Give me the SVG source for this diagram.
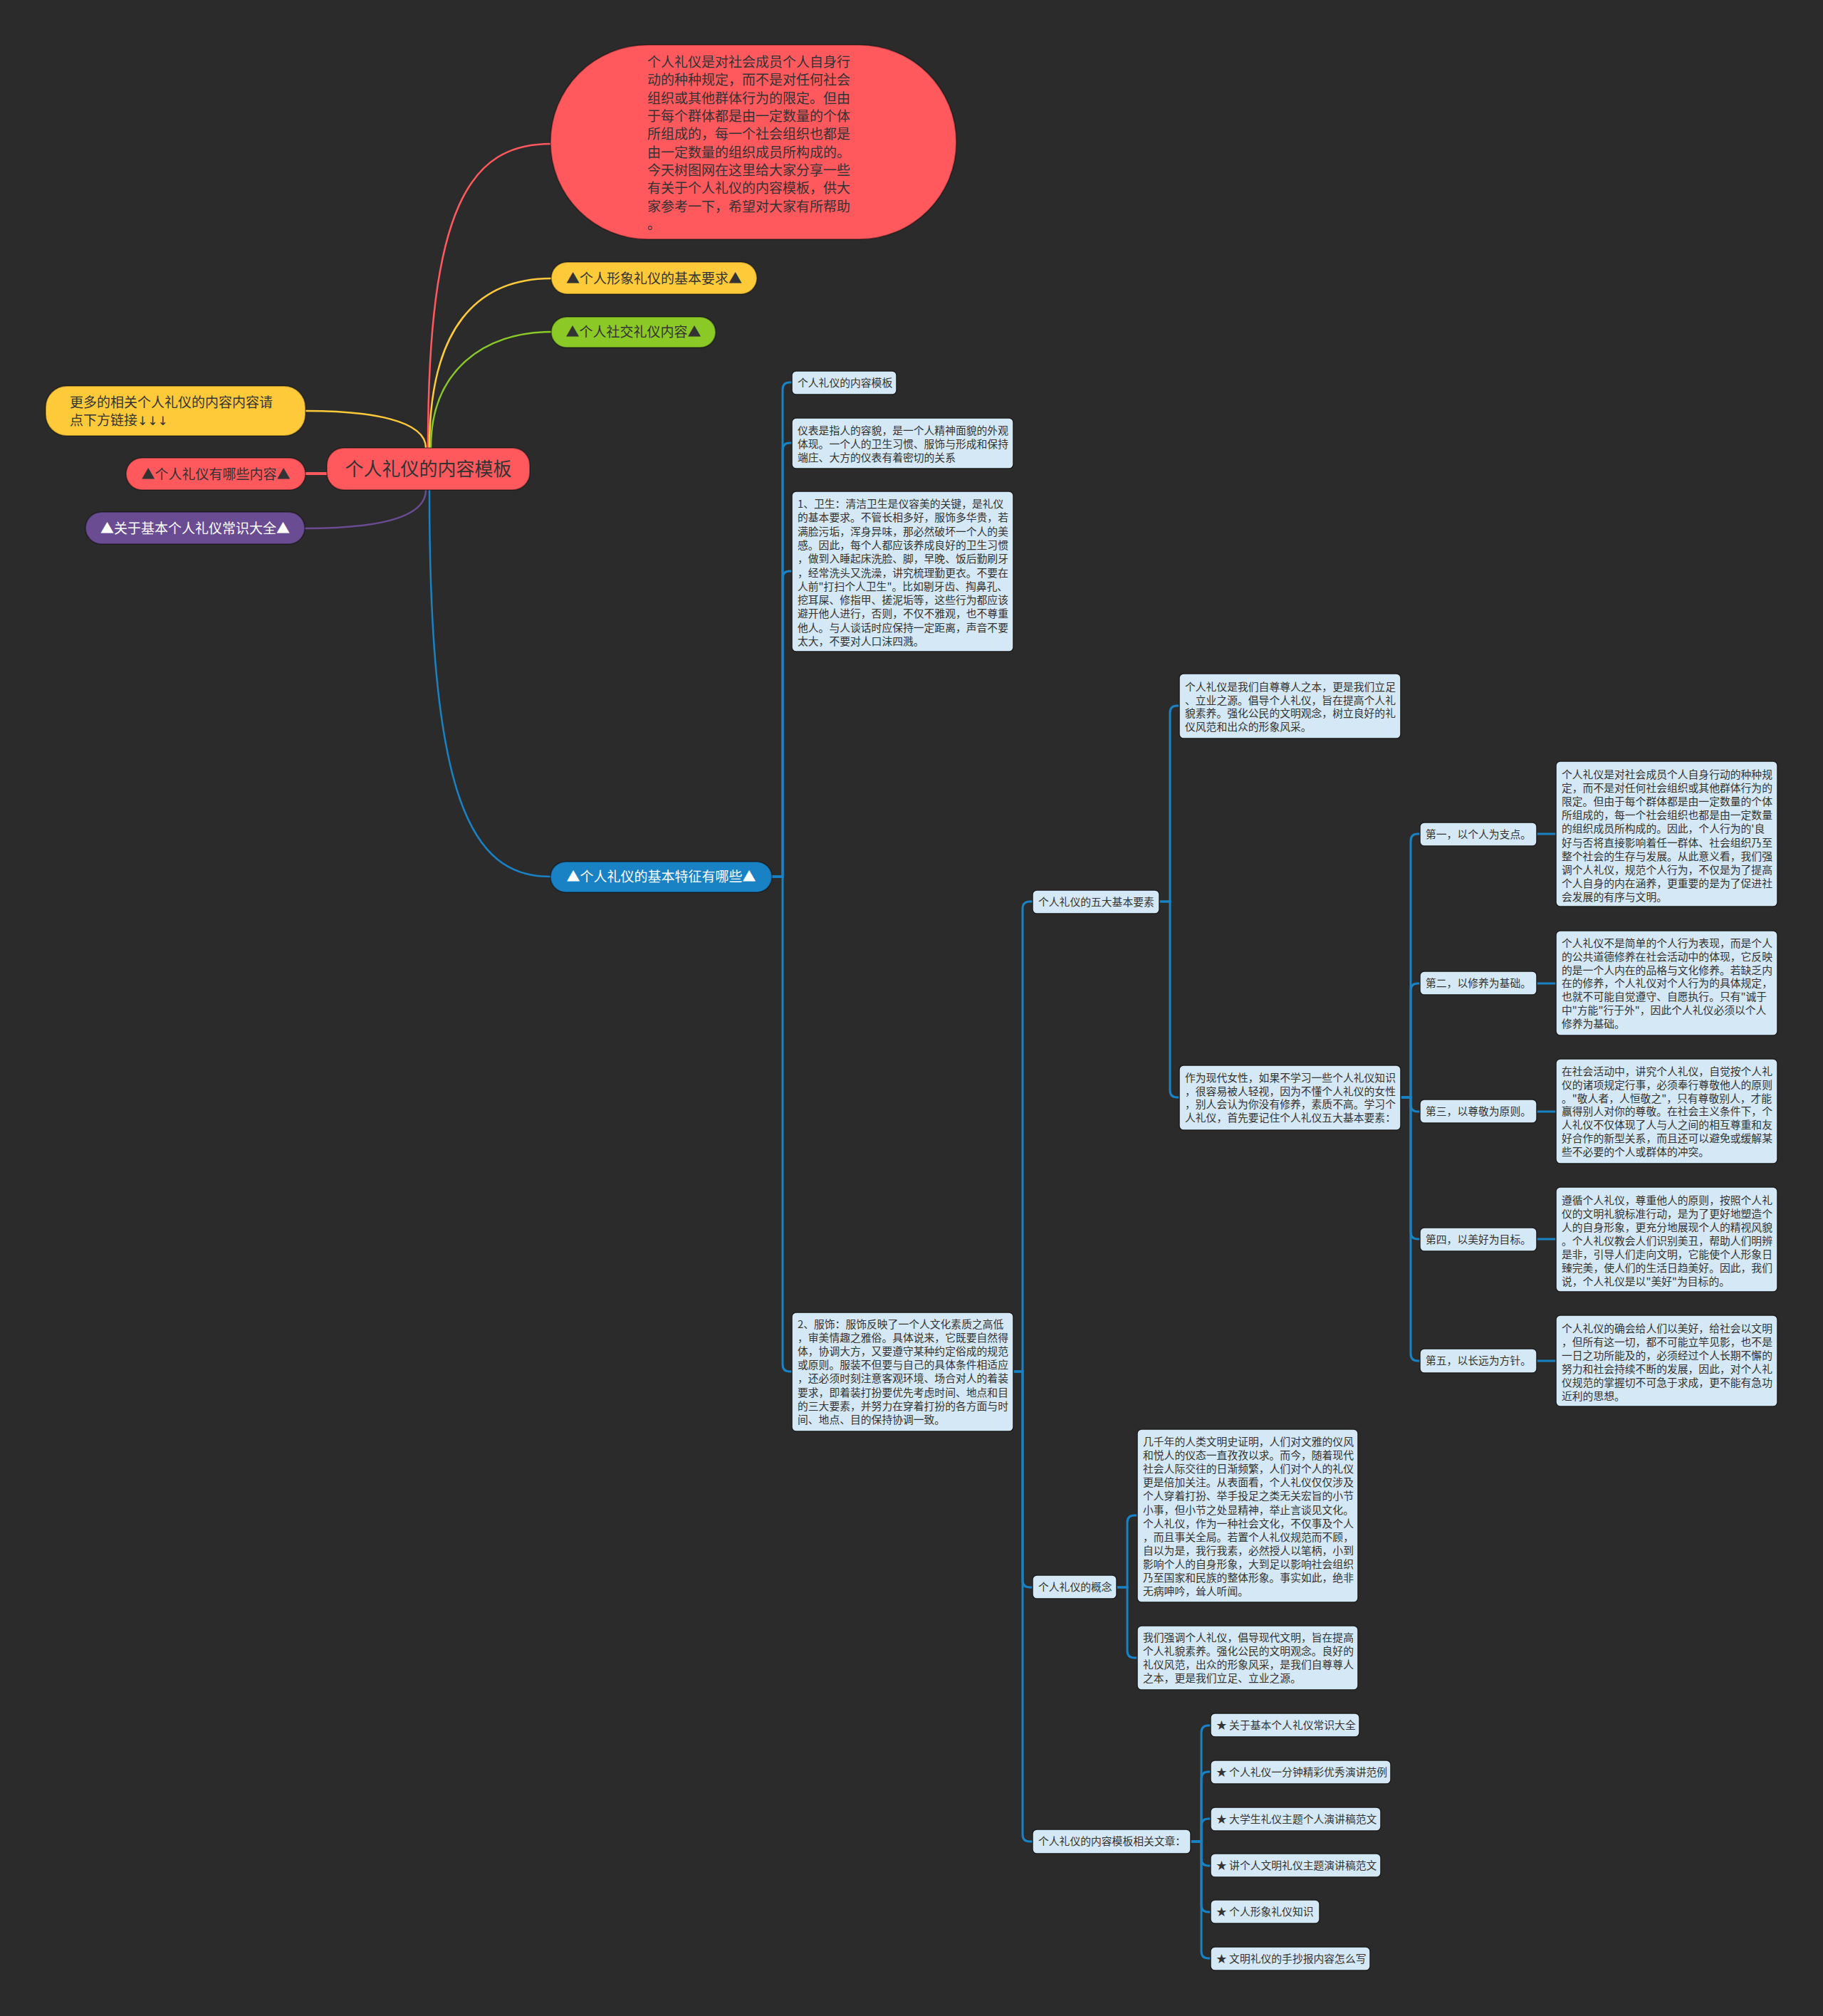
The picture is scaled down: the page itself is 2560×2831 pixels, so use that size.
<svg xmlns="http://www.w3.org/2000/svg" width="2560" height="2831" viewBox="0 0 2560 2831">
<style>
text{font-family:"Noto Sans CJK SC","Noto Sans",sans-serif;}
.big{font-size:19px;fill:#333;}
.bw{font-size:19px;fill:#fff;}
.root{font-size:26px;fill:#333;}
.sm{font-size:14.8px;fill:#333;}
.lb{fill:#d5e8f5;stroke:#1e1e1e;stroke-width:1.5;}
.cn{fill:none;stroke:#1982c4;stroke-width:3;}
.cc{stroke:rgba(0,0,0,0.35);stroke-width:2;}
</style>
<rect x="0" y="0" width="2560" height="2831" fill="#2b2b2b"/>
<g id="connectors" fill="none">
<path d="M601 629 C601 290 660 202 773 202" stroke="#ff595e" stroke-width="2.5"/>
<path d="M603 629 C603 460 670 391 774 391" stroke="#ffca3a" stroke-width="2.5"/>
<path d="M605 629 C605 520 680 466 774 466" stroke="#8ac926" stroke-width="2.5"/>
<path d="M598 629 C598 590 520 577 429 577" stroke="#ffca3a" stroke-width="2.5"/>
<path d="M598 688 C598 730 520 742 428 742" stroke="#6a4c93" stroke-width="2.5"/>
<path d="M429 665 H459" stroke="#ff595e" stroke-width="4"/>
<path d="M603 688 C603 1120 660 1231 773 1231" stroke="#1982c4" stroke-width="2.5"/>
<g class="cn">
<path d="M1083 1231 H1099 V547 Q1099 537 1109 537 H1112"/>
<path d="M1083 1231 H1099 V632 Q1099 622 1109 622 H1112"/>
<path d="M1083 1231 H1099 V812 Q1099 802 1109 802 H1112"/>
<path d="M1083 1231 H1099 V1916 Q1099 1926 1109 1926 H1112"/>
<path d="M1423 1926 H1436 V1276 Q1436 1266 1446 1266 H1450"/>
<path d="M1423 1926 H1436 V2219 Q1436 2229 1446 2229 H1450"/>
<path d="M1423 1926 H1436 V2576 Q1436 2586 1446 2586 H1450"/>
<path d="M1628 1266 H1643 V1001 Q1643 991 1653 991 H1656"/>
<path d="M1628 1266 H1643 V1531 Q1643 1541 1653 1541 H1656"/>
<path d="M1967 1541 H1981 V1181 Q1981 1171 1991 1171 H1994"/>
<path d="M1967 1541 H1981 V1391 Q1981 1381 1991 1381 H1994"/>
<path d="M1967 1541 H1981 V1551 Q1981 1561 1991 1561 H1994"/>
<path d="M1967 1541 H1981 V1730 Q1981 1740 1991 1740 H1994"/>
<path d="M1967 1541 H1981 V1901 Q1981 1911 1991 1911 H1994"/>
<path d="M2158 1171 H2185"/>
<path d="M2158 1381 H2185"/>
<path d="M2158 1561 H2185"/>
<path d="M2158 1740 H2185"/>
<path d="M2158 1911 H2185"/>
<path d="M1568 2229 H1583 V2138 Q1583 2128 1593 2128 H1597"/>
<path d="M1568 2229 H1583 V2318 Q1583 2328 1593 2328 H1597"/>
<path d="M1672 2586 H1687 V2433 Q1687 2423 1697 2423 H1700"/>
<path d="M1672 2586 H1687 V2498 Q1687 2488 1697 2488 H1700"/>
<path d="M1672 2586 H1687 V2564 Q1687 2554 1697 2554 H1700"/>
<path d="M1672 2586 H1687 V2610 Q1687 2620 1697 2620 H1700"/>
<path d="M1672 2586 H1687 V2675 Q1687 2685 1697 2685 H1700"/>
<path d="M1672 2586 H1687 V2740 Q1687 2750 1697 2750 H1700"/>
</g>
</g>

<g id="bubble">
<rect class="cc" x="773" y="63" width="570" height="273" rx="136.5" fill="#ff595e"/>
<text class="big" x="909" y="94"><tspan x="909">个人礼仪是对社会成员个人自身行</tspan><tspan x="909" dy="25.35">动的种种规定，而不是对任何社会</tspan><tspan x="909" dy="25.35">组织或其他群体行为的限定。但由</tspan><tspan x="909" dy="25.35">于每个群体都是由一定数量的个体</tspan><tspan x="909" dy="25.35">所组成的，每一个社会组织也都是</tspan><tspan x="909" dy="25.35">由一定数量的组织成员所构成的。</tspan><tspan x="909" dy="25.35">今天树图网在这里给大家分享一些</tspan><tspan x="909" dy="25.35">有关于个人礼仪的内容模板，供大</tspan><tspan x="909" dy="25.35">家参考一下，希望对大家有所帮助</tspan><tspan x="909" dy="25.35">。</tspan></text>
</g>
<g id="n-xingxiang">
<rect class="cc" x="774" y="368" width="289" height="45" rx="22.5" fill="#ffca3a"/>
<text class="big" x="918.5" y="397.5" text-anchor="middle">▲个人形象礼仪的基本要求▲</text>
</g>
<g id="n-shejiao">
<rect class="cc" x="774" y="445" width="231" height="43" rx="21.5" fill="#8ac926"/>
<text class="big" x="889.5" y="473" text-anchor="middle">▲个人社交礼仪内容▲</text>
</g>
<g id="n-more">
<rect class="cc" x="64" y="542" width="365" height="70" rx="30" fill="#ffca3a"/>
<text class="big" x="98" y="572"><tspan x="98">更多的相关个人礼仪的内容内容请</tspan><tspan x="98" dy="25">点下方链接<tspan style="font-family:'DejaVu Sans',sans-serif;font-size:17px">↓↓↓</tspan></tspan></text>
</g>
<g id="n-naxie">
<rect class="cc" x="177" y="643" width="252" height="45" rx="22.5" fill="#ff595e"/>
<text class="big" x="303" y="672.5" text-anchor="middle">▲个人礼仪有哪些内容▲</text>
</g>
<g id="n-changshi">
<rect class="cc" x="120" y="719" width="308" height="45" rx="22.5" fill="#6a4c93"/>
<text class="bw" x="274" y="748.5" text-anchor="middle">▲关于基本个人礼仪常识大全▲</text>
</g>
<g id="root">
<rect class="cc" x="459" y="629" width="285" height="59" rx="24" fill="#ff595e"/>
<text class="root" x="601.5" y="668" text-anchor="middle">个人礼仪的内容模板</text>
</g>
<g id="n-tezheng">
<rect class="cc" x="773" y="1210" width="311" height="43" rx="21.5" fill="#1982c4"/>
<text class="bw" x="928.5" y="1238" text-anchor="middle">▲个人礼仪的基本特征有哪些▲</text>
</g>

<g id="n-tpl">
<rect class="lb" x="1112" y="521" width="147" height="33" rx="6"/>
<text class="sm" x="1120" y="542.5">个人礼仪的内容模板</text>
</g>
<g id="n-yibiao">
<rect class="lb" x="1112" y="587" width="311" height="71" rx="6"/>
<text class="sm" x="1120" y="610"><tspan x="1120">仪表是指人的容貌，是一个人精神面貌的外观</tspan><tspan x="1120" dy="19">体现。一个人的卫生习惯、服饰与形成和保持</tspan><tspan x="1120" dy="19">端庄、大方的仪表有着密切的关系</tspan></text>
</g>
<g id="n-weisheng">
<rect class="lb" x="1112" y="690" width="311" height="225" rx="6"/>
<text class="sm" x="1120" y="713"><tspan x="1120">1、卫生：清洁卫生是仪容美的关键，是礼仪</tspan><tspan x="1120" dy="19.3">的基本要求。不管长相多好，服饰多华贵，若</tspan><tspan x="1120" dy="19.3">满脸污垢，浑身异味，那必然破坏一个人的美</tspan><tspan x="1120" dy="19.3">感。因此，每个人都应该养成良好的卫生习惯</tspan><tspan x="1120" dy="19.3">，做到入睡起床洗脸、脚，早晚、饭后勤刷牙</tspan><tspan x="1120" dy="19.3">，经常洗头又洗澡，讲究梳理勤更衣。不要在</tspan><tspan x="1120" dy="19.3">人前"打扫个人卫生"。比如剔牙齿、掏鼻孔、</tspan><tspan x="1120" dy="19.3">挖耳屎、修指甲、搓泥垢等，这些行为都应该</tspan><tspan x="1120" dy="19.3">避开他人进行，否则，不仅不雅观，也不尊重</tspan><tspan x="1120" dy="19.3">他人。与人谈话时应保持一定距离，声音不要</tspan><tspan x="1120" dy="19.3">太大，不要对人口沫四溅。</tspan></text>
</g>
<g id="n-fushi">
<rect class="lb" x="1112" y="1843" width="311" height="167" rx="6"/>
<text class="sm" x="1120" y="1865"><tspan x="1120">2、服饰：服饰反映了一个人文化素质之高低</tspan><tspan x="1120" dy="19.1">，审美情趣之雅俗。具体说来，它既要自然得</tspan><tspan x="1120" dy="19.1">体，协调大方，又要遵守某种约定俗成的规范</tspan><tspan x="1120" dy="19.1">或原则。服装不但要与自己的具体条件相适应</tspan><tspan x="1120" dy="19.1">，还必须时刻注意客观环境、场合对人的着装</tspan><tspan x="1120" dy="19.1">要求，即着装打扮要优先考虑时间、地点和目</tspan><tspan x="1120" dy="19.1">的三大要素，并努力在穿着打扮的各方面与时</tspan><tspan x="1120" dy="19.1">间、地点、目的保持协调一致。</tspan></text>
</g>
<g id="n-wuda">
<rect class="lb" x="1450" y="1250" width="178" height="33" rx="6"/>
<text class="sm" x="1458" y="1271.5">个人礼仪的五大基本要素</text>
</g>
<g id="n-zizun">
<rect class="lb" x="1656" y="946" width="311" height="91" rx="6"/>
<text class="sm" x="1664" y="970"><tspan x="1664">个人礼仪是我们自尊尊人之本，更是我们立足</tspan><tspan x="1664" dy="18.7">、立业之源。倡导个人礼仪，旨在提高个人礼</tspan><tspan x="1664" dy="18.7">貌素养。强化公民的文明观念，树立良好的礼</tspan><tspan x="1664" dy="18.7">仪风范和出众的形象风采。</tspan></text>
</g>
<g id="n-nvxing">
<rect class="lb" x="1656" y="1496" width="311" height="91" rx="6"/>
<text class="sm" x="1664" y="1519"><tspan x="1664">作为现代女性，如果不学习一些个人礼仪知识</tspan><tspan x="1664" dy="18.7">，很容易被人轻视，因为不懂个人礼仪的女性</tspan><tspan x="1664" dy="18.7">，别人会认为你没有修养，素质不高。学习个</tspan><tspan x="1664" dy="18.7">人礼仪，首先要记住个人礼仪五大基本要素：</tspan></text>
</g>
<g id="n-di1">
<rect class="lb" x="1994" y="1155" width="164" height="33" rx="6"/>
<text class="sm" x="2002" y="1176.5">第一，以个人为支点。</text>
</g>
<g id="n-di1d">
<rect class="lb" x="2185" y="1069" width="311" height="204" rx="6"/>
<text class="sm" x="2193" y="1093"><tspan x="2193">个人礼仪是对社会成员个人自身行动的种种规</tspan><tspan x="2193" dy="19.1">定，而不是对任何社会组织或其他群体行为的</tspan><tspan x="2193" dy="19.1">限定。但由于每个群体都是由一定数量的个体</tspan><tspan x="2193" dy="19.1">所组成的，每一个社会组织也都是由一定数量</tspan><tspan x="2193" dy="19.1">的组织成员所构成的。因此，个人行为的'良</tspan><tspan x="2193" dy="19.1">好与否将直接影响着任一群体、社会组织乃至</tspan><tspan x="2193" dy="19.1">整个社会的生存与发展。从此意义看，我们强</tspan><tspan x="2193" dy="19.1">调个人礼仪，规范个人行为，不仅是为了提高</tspan><tspan x="2193" dy="19.1">个人自身的内在涵养，更重要的是为了促进社</tspan><tspan x="2193" dy="19.1">会发展的有序与文明。</tspan></text>
</g>
<g id="n-di2">
<rect class="lb" x="1994" y="1364" width="164" height="33" rx="6"/>
<text class="sm" x="2002" y="1385.5">第二，以修养为基础。</text>
</g>
<g id="n-di2d">
<rect class="lb" x="2185" y="1307" width="311" height="147" rx="6"/>
<text class="sm" x="2193" y="1330"><tspan x="2193">个人礼仪不是简单的个人行为表现，而是个人</tspan><tspan x="2193" dy="18.8">的公共道德修养在社会活动中的体现，它反映</tspan><tspan x="2193" dy="18.8">的是一个人内在的品格与文化修养。若缺乏内</tspan><tspan x="2193" dy="18.8">在的修养，个人礼仪对个人行为的具体规定，</tspan><tspan x="2193" dy="18.8">也就不可能自觉遵守、自愿执行。只有"诚于</tspan><tspan x="2193" dy="18.8">中"方能"行于外"，因此个人礼仪必须以个人</tspan><tspan x="2193" dy="18.8">修养为基础。</tspan></text>
</g>
<g id="n-di3">
<rect class="lb" x="1994" y="1544" width="164" height="33" rx="6"/>
<text class="sm" x="2002" y="1565.5">第三，以尊敬为原则。</text>
</g>
<g id="n-di3d">
<rect class="lb" x="2185" y="1487" width="311" height="147" rx="6"/>
<text class="sm" x="2193" y="1510"><tspan x="2193">在社会活动中，讲究个人礼仪，自觉按个人礼</tspan><tspan x="2193" dy="18.8">仪的诸项规定行事，必须奉行尊敬他人的原则</tspan><tspan x="2193" dy="18.8">。"敬人者，人恒敬之"，只有尊敬别人，才能</tspan><tspan x="2193" dy="18.8">赢得别人对你的尊敬。在社会主义条件下，个</tspan><tspan x="2193" dy="18.8">人礼仪不仅体现了人与人之间的相互尊重和友</tspan><tspan x="2193" dy="18.8">好合作的新型关系，而且还可以避免或缓解某</tspan><tspan x="2193" dy="18.8">些不必要的个人或群体的冲突。</tspan></text>
</g>
<g id="n-di4">
<rect class="lb" x="1994" y="1724" width="164" height="33" rx="6"/>
<text class="sm" x="2002" y="1745.5">第四，以美好为目标。</text>
</g>
<g id="n-di4d">
<rect class="lb" x="2185" y="1667" width="311" height="147" rx="6"/>
<text class="sm" x="2193" y="1691"><tspan x="2193">遵循个人礼仪，尊重他人的原则，按照个人礼</tspan><tspan x="2193" dy="19">仪的文明礼貌标准行动，是为了更好地塑造个</tspan><tspan x="2193" dy="19">人的自身形象，更充分地展现个人的精视风貌</tspan><tspan x="2193" dy="19">。个人礼仪教会人们识别美丑，帮助人们明辨</tspan><tspan x="2193" dy="19">是非，引导人们走向文明，它能使个人形象日</tspan><tspan x="2193" dy="19">臻完美，使人们的生活日趋美好。因此，我们</tspan><tspan x="2193" dy="19">说，个人礼仪是以"美好"为目标的。</tspan></text>
</g>
<g id="n-di5">
<rect class="lb" x="1994" y="1894" width="164" height="34" rx="6"/>
<text class="sm" x="2002" y="1916">第五，以长远为方针。</text>
</g>
<g id="n-di5d">
<rect class="lb" x="2185" y="1847" width="311" height="128" rx="6"/>
<text class="sm" x="2193" y="1871"><tspan x="2193">个人礼仪的确会给人们以美好，给社会以文明</tspan><tspan x="2193" dy="19">，但所有这一切，都不可能立竿见影，也不是</tspan><tspan x="2193" dy="19">一日之功所能及的，必须经过个人长期不懈的</tspan><tspan x="2193" dy="19">努力和社会持续不断的发展，因此，对个人礼</tspan><tspan x="2193" dy="19">仪规范的掌握切不可急于求成，更不能有急功</tspan><tspan x="2193" dy="19">近利的思想。</tspan></text>
</g>
<g id="n-gainian">
<rect class="lb" x="1450" y="2212" width="118" height="33" rx="6"/>
<text class="sm" x="1458" y="2233.5">个人礼仪的概念</text>
</g>
<g id="n-gainian1">
<rect class="lb" x="1597" y="2007" width="310" height="243" rx="6"/>
<text class="sm" x="1605" y="2030"><tspan x="1605">几千年的人类文明史证明，人们对文雅的仪风</tspan><tspan x="1605" dy="19.1">和悦人的仪态一直孜孜以求。而今，随着现代</tspan><tspan x="1605" dy="19.1">社会人际交往的日渐频繁，人们对个人的礼仪</tspan><tspan x="1605" dy="19.1">更是倍加关注。从表面看，个人礼仪仅仅涉及</tspan><tspan x="1605" dy="19.1">个人穿着打扮、举手投足之类无关宏旨的小节</tspan><tspan x="1605" dy="19.1">小事，但小节之处显精神，举止言谈见文化。</tspan><tspan x="1605" dy="19.1">个人礼仪，作为一种社会文化，不仅事及个人</tspan><tspan x="1605" dy="19.1">，而且事关全局。若置个人礼仪规范而不顾，</tspan><tspan x="1605" dy="19.1">自以为是，我行我素，必然授人以笔柄，小到</tspan><tspan x="1605" dy="19.1">影响个人的自身形象，大到足以影响社会组织</tspan><tspan x="1605" dy="19.1">乃至国家和民族的整体形象。事实如此，绝非</tspan><tspan x="1605" dy="19.1">无病呻吟，耸人听闻。</tspan></text>
</g>
<g id="n-gainian2">
<rect class="lb" x="1597" y="2283" width="310" height="90" rx="6"/>
<text class="sm" x="1605" y="2305"><tspan x="1605">我们强调个人礼仪，倡导现代文明，旨在提高</tspan><tspan x="1605" dy="19">个人礼貌素养。强化公民的文明观念。良好的</tspan><tspan x="1605" dy="19">礼仪风范，出众的形象风采，是我们自尊尊人</tspan><tspan x="1605" dy="19">之本，更是我们立足、立业之源。</tspan></text>
</g>
<g id="n-xiangguan">
<rect class="lb" x="1450" y="2569" width="222" height="34" rx="6"/>
<text class="sm" x="1458" y="2591">个人礼仪的内容模板相关文章：</text>
</g>
<g id="n-a1">
<rect class="lb" x="1700" y="2406" width="209" height="33" rx="6"/>
<text class="sm" x="1708" y="2427.5">★ 关于基本个人礼仪常识大全</text>
</g>
<g id="n-a2">
<rect class="lb" x="1700" y="2472" width="253" height="33" rx="6"/>
<text class="sm" x="1708" y="2493.5">★ 个人礼仪一分钟精彩优秀演讲范例</text>
</g>
<g id="n-a3">
<rect class="lb" x="1700" y="2538" width="239" height="33" rx="6"/>
<text class="sm" x="1708" y="2559.5">★ 大学生礼仪主题个人演讲稿范文</text>
</g>
<g id="n-a4">
<rect class="lb" x="1700" y="2603" width="239" height="33" rx="6"/>
<text class="sm" x="1708" y="2624.5">★ 讲个人文明礼仪主题演讲稿范文</text>
</g>
<g id="n-a5">
<rect class="lb" x="1700" y="2668" width="153" height="33" rx="6"/>
<text class="sm" x="1708" y="2689.5">★ 个人形象礼仪知识</text>
</g>
<g id="n-a6">
<rect class="lb" x="1700" y="2734" width="224" height="33" rx="6"/>
<text class="sm" x="1708" y="2755.5">★ 文明礼仪的手抄报内容怎么写</text>
</g>
</svg>
